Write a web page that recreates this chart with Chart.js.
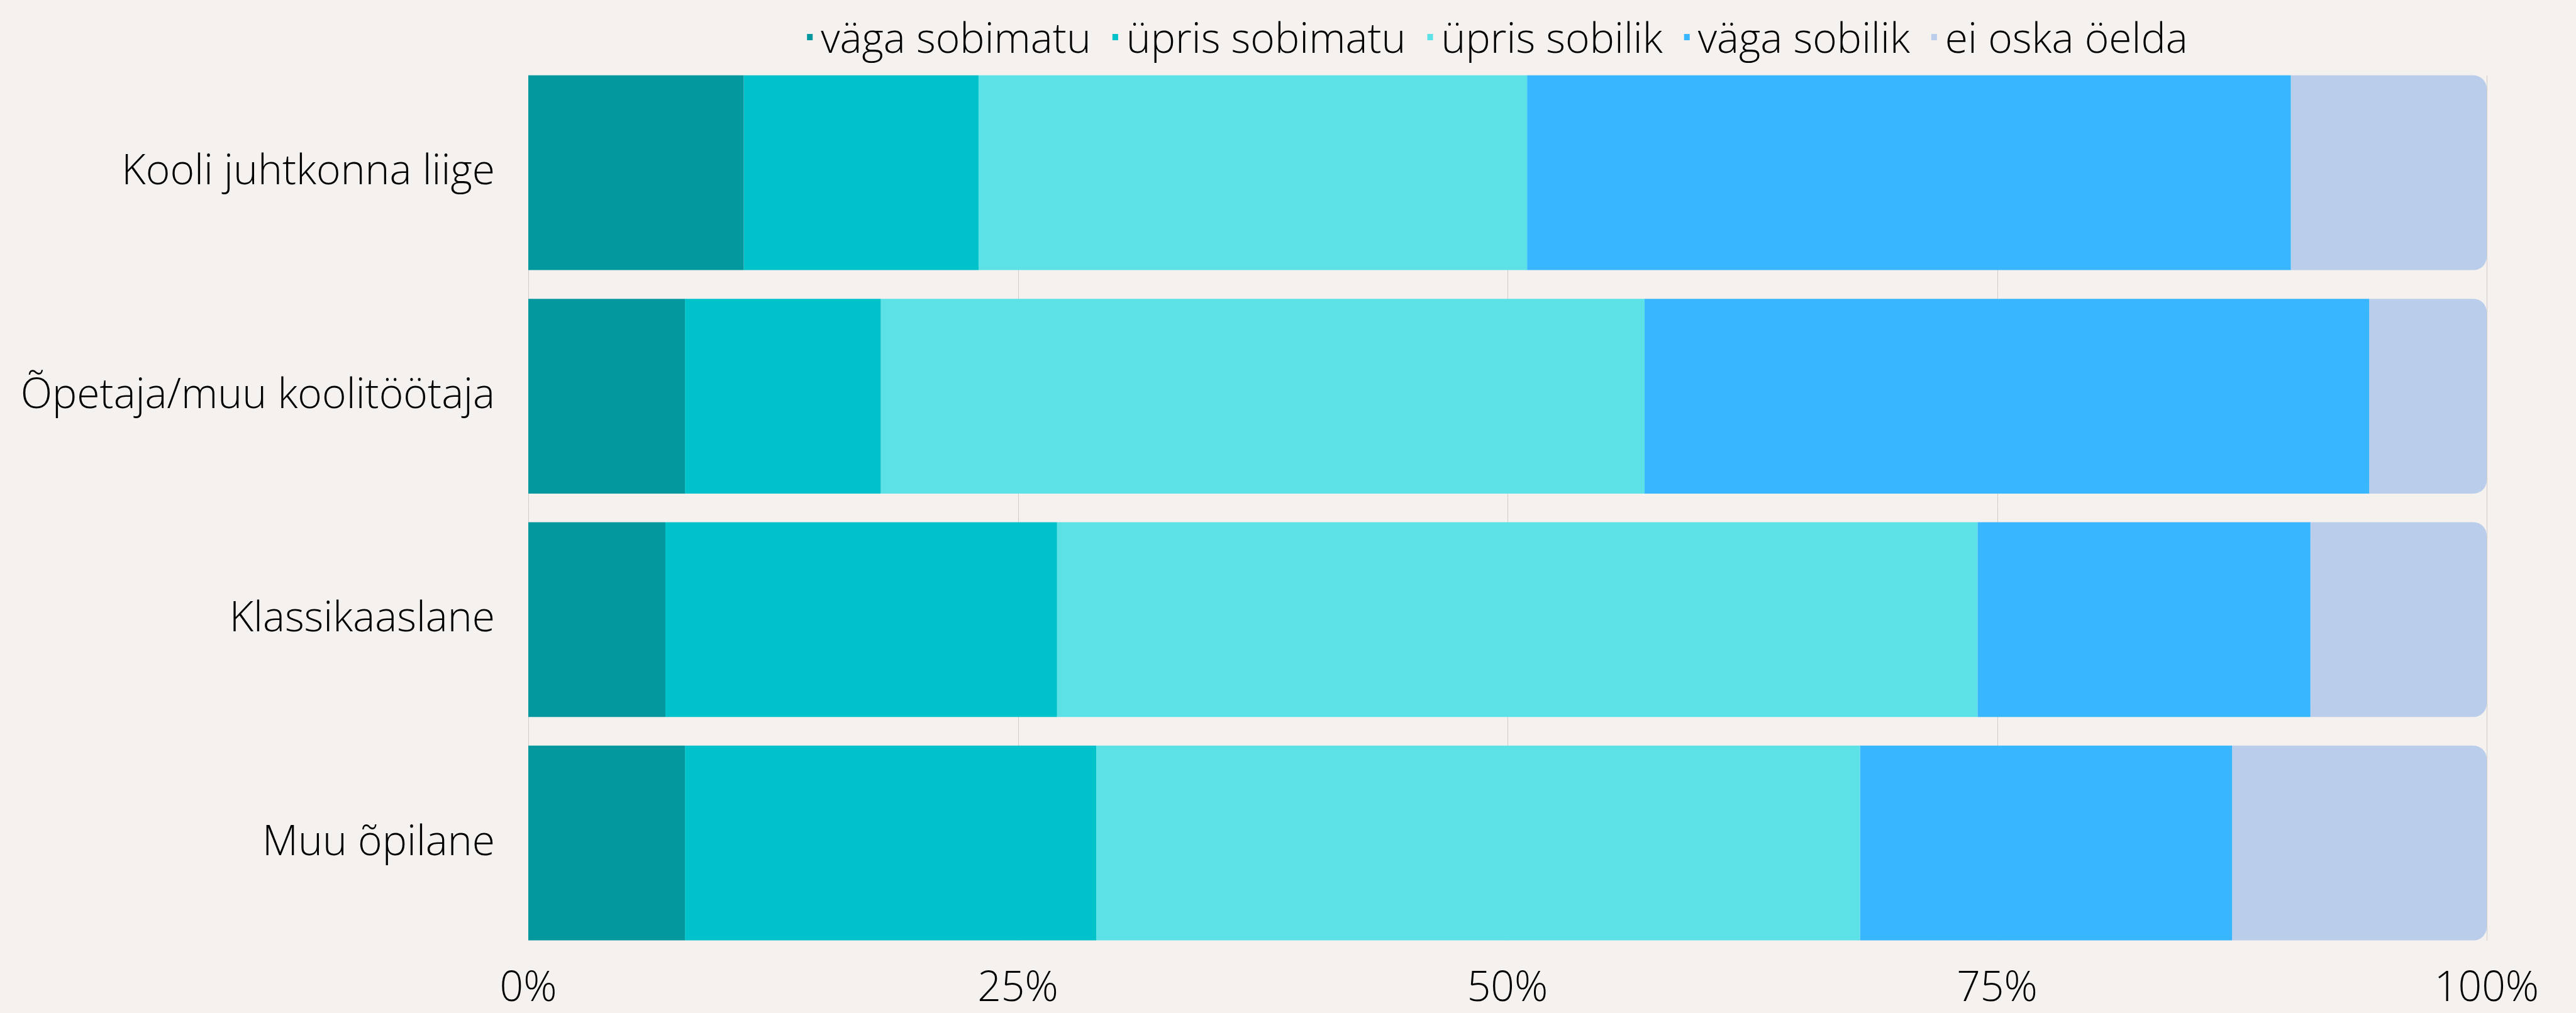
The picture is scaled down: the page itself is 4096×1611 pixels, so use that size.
<!DOCTYPE html>
<html>
<head>
<meta charset="utf-8">
<script src="https://cdn.jsdelivr.net/npm/chart.js@4.4.0/dist/chart.umd.min.js"></script>
<style>
  html, body { margin: 0; padding: 0; background: #f4f1ef; }
  canvas { display: block; }
</style>
</head>
<body>
<canvas id="chart-suitability" width="4096" height="1611"></canvas>
<script>
// Andmed (protsendid, loetud jooniselt)
const categories = ['Kooli juhtkonna liige', 'Õpetaja/muu koolitöötaja', 'Klassikaaslane', 'Muu õpilane'];
const seriesNames = ['väga sobimatu', 'üpris sobimatu', 'üpris sobilik', 'väga sobilik', 'ei oska öelda'];
const vagaSobimatu = [11, 8, 7, 8];
const uprisSobimatu = [12, 10, 20, 21];
const uprisSobilik = [28, 39, 47, 39];
const vagaSobilik = [39, 37, 17, 19];
const eiOskaOelda = [10, 6, 9, 13];
const xTicks = [0, 25, 50, 75, 100];

const seriesValues = [vagaSobimatu, uprisSobimatu, uprisSobilik, vagaSobilik, eiOskaOelda];
const palette = ['#03989e', '#00c2cb', '#5ce1e6', '#38b6ff', '#bacdeb'];

const FONT = '"Open Sans", "Noto Sans", sans-serif';
const FONT_SIZE = 66;

// vertical grid lines only between first bar top and last bar bottom
const barGridPlugin = {
  id: 'barGrid',
  beforeDatasetsDraw(chart) {
    const { ctx: c, scales: { x } } = chart;
    const bars = chart.getDatasetMeta(0).data;
    const first = bars[0];
    const last = bars[bars.length - 1];
    const top = first.y - first.height / 2;
    const bottom = last.y + last.height / 2;
    c.save();
    c.strokeStyle = '#cfcccb';
    c.lineWidth = 1;
    x.ticks.forEach(t => {
      const px = Math.round(x.getPixelForValue(t.value)) + 0.5;
      c.beginPath();
      c.moveTo(px, top);
      c.lineTo(px, bottom);
      c.stroke();
    });
    c.restore();
  }
};

// legend: small square + text, roughly centred over the plot area
const topLegendPlugin = {
  id: 'topLegend',
  afterDraw(chart) {
    const { ctx: c, chartArea } = chart;
    c.save();
    c.font = `300 ${FONT_SIZE}px ${FONT}`;
    c.textBaseline = 'alphabetic';
    c.textAlign = 'left';
    const box = 9, boxGap = 13, itemGap = 34, baseline = 84;
    const items = chart.data.datasets.map(ds => ({
      text: ds.label,
      color: ds.backgroundColor,
      w: c.measureText(ds.label).width
    }));
    const total = items.reduce((s, it) => s + box + boxGap + it.w, 0) + itemGap * (items.length - 1);
    let x = (chartArea.left + chartArea.right) / 2 - 16 - total / 2;
    items.forEach(it => {
      c.fillStyle = it.color;
      c.fillRect(x, baseline - 30, box, 10);
      c.fillStyle = '#000';
      c.fillText(it.text, x + box + boxGap, baseline);
      x += box + boxGap + it.w + itemGap;
    });
    c.restore();
  }
};

function render() {
  const ctx = document.getElementById('chart-suitability');
  new Chart(ctx, {
    type: 'bar',
    data: {
      labels: categories,
      datasets: seriesNames.map((name, i) => ({
        label: name,
        data: seriesValues[i],
        backgroundColor: palette[i],
        borderWidth: 0,
        borderRadius: i === seriesNames.length - 1 ? 21 : 0,
        categoryPercentage: 0.8716,
        barPercentage: 1
      }))
    },
    plugins: [barGridPlugin, topLegendPlugin],
    options: {
      indexAxis: 'y',
      responsive: false,
      devicePixelRatio: 1,
      animation: false,
      layout: { padding: { top: 97, right: 142, bottom: 0, left: 0 } },
      plugins: {
        legend: { display: false },
        tooltip: { enabled: false }
      },
      scales: {
        x: {
          stacked: true,
          min: xTicks[0],
          max: xTicks[xTicks.length - 1],
          afterBuildTicks: (s) => { s.ticks = xTicks.map(v => ({ value: v })); },
          ticks: {
            callback: (v) => v + '%',
            font: { family: FONT, size: FONT_SIZE, weight: '300' },
            color: '#000',
            padding: 15,
            maxRotation: 0,
            autoSkip: false
          },
          grid: { display: false, drawTicks: false },
          border: { display: false },
          afterFit: (s) => { s.height = 87; }
        },
        y: {
          stacked: true,
          ticks: {
            font: { family: FONT, size: FONT_SIZE, weight: '300' },
            color: '#000',
            padding: 53
          },
          grid: { display: false, drawTicks: false },
          border: { display: false },
          afterFit: (s) => { s.width = 840; }
        }
      }
    }
  });
}

if (document.fonts && document.fonts.load) {
  document.fonts.load(`300 ${FONT_SIZE}px "Open Sans"`).then(render, render);
} else {
  render();
}
</script>
</body>
</html>
